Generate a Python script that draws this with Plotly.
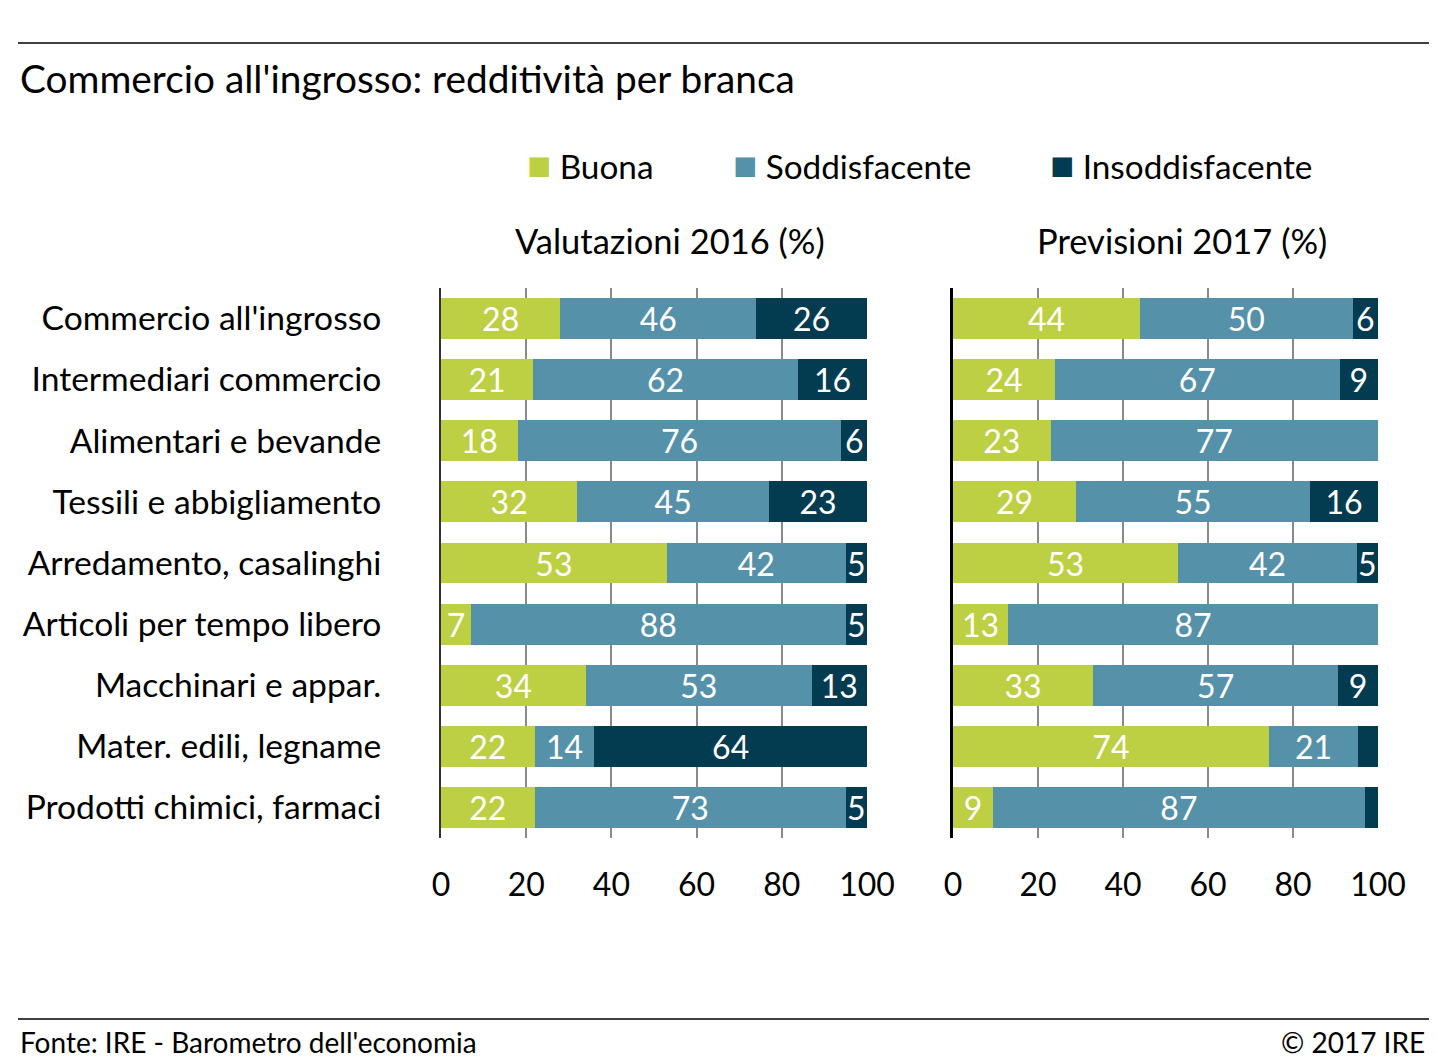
import plotly.graph_objects as go

# categories, top to bottom
branche = ["Commercio all'ingrosso", "Intermediari commercio", "Alimentari e bevande",
           "Tessili e abbigliamento", "Arredamento, casalinghi", "Articoli per tempo libero",
           "Macchinari e appar.", "Mater. edili, legname", "Prodotti chimici, farmaci"]

# Valutazioni 2016 (%)
buona_2016 = [28, 21.6, 18, 32, 53, 7, 34, 22, 22]
sodd_2016 = [46, 62.2, 76, 45, 42, 88, 53, 14, 73]
insodd_2016 = [26, 16.2, 6, 23, 5, 5, 13, 64, 5]
lab_buona_2016 = ["28", "21", "18", "32", "53", "7", "34", "22", "22"]
lab_sodd_2016 = ["46", "62", "76", "45", "42", "88", "53", "14", "73"]
lab_insodd_2016 = ["26", "16", "6", "23", "5", "5", "13", "64", "5"]

# Previsioni 2017 (%)
buona_2017 = [44, 24, 23, 29, 53, 13, 33, 74.3, 9.4]
sodd_2017 = [50, 67, 77, 55, 42, 87, 57.6, 21.1, 87.5]
insodd_2017 = [6, 9, 0, 16, 5, 0, 9.4, 4.6, 3.1]
lab_buona_2017 = ["44", "24", "23", "29", "53", "13", "33", "74", "9"]
lab_sodd_2017 = ["50", "67", "77", "55", "42", "87", "57", "21", "87"]
lab_insodd_2017 = ["6", "9", "", "16", "5", "", "9", "", ""]

serie = ["Buona", "Soddisfacente", "Insoddisfacente"]
colori = ["#bdd043", "#5592aa", "#033b50"]
tick_x = [0, 20, 40, 60, 80, 100]

FONT = "Lato, Noto Sans, sans-serif"
W, H = 1437, 1063
OFF = 8  # page body margin


def px_x(p):
    return (p - OFF) / W


def px_y(p):
    return 1 - (p - OFF) / H


fig = go.Figure()

panels = [
    ("x", "y", [buona_2016, sodd_2016, insodd_2016], [lab_buona_2016, lab_sodd_2016, lab_insodd_2016]),
    ("x2", "y2", [buona_2017, sodd_2017, insodd_2017], [lab_buona_2017, lab_sodd_2017, lab_insodd_2017]),
]
for xa, ya, vals, labs in panels:
    for nome, col, v, t in zip(serie, colori, vals, labs):
        fig.add_trace(go.Bar(
            y=branche, x=v, name=nome, orientation="h",
            marker=dict(color=col, line=dict(width=0)),
            text=t, textposition="inside", insidetextanchor="middle", textangle=0,
            textfont=dict(color="white", size=32, family=FONT),
            constraintext="none", showlegend=False,
            xaxis=xa, yaxis=ya,
        ))

fig.update_layout(
    width=W, height=H, autosize=False,
    barmode="stack", bargap=0.33,
    plot_bgcolor="white", paper_bgcolor="white",
    margin=dict(l=0, r=0, t=0, b=0, pad=0, autoexpand=False),
    font=dict(family=FONT, color="black", size=32),
)

ax_common = dict(range=[0, 100], tickvals=tick_x, showgrid=True, gridcolor="#8a8a8a",
                 gridwidth=2, zeroline=False, ticks="", tickfont=dict(size=32),
                 ticklabelstandoff=25, fixedrange=True, automargin=False)
y_dom = [px_y(838), px_y(288)]
fig.update_layout(
    xaxis=dict(domain=[px_x(441), px_x(867)], anchor="y", **ax_common),
    xaxis2=dict(domain=[px_x(953), px_x(1378)], anchor="y2", **ax_common),
    yaxis=dict(domain=y_dom, anchor="x", autorange="reversed",
               showline=True, linecolor="#333333", linewidth=2, ticks="",
               ticklabelstandoff=51, tickfont=dict(size=33.6), showgrid=False, automargin=False),
    yaxis2=dict(domain=y_dom, anchor="x2", autorange="reversed",
                showline=True, linecolor="black", linewidth=3, ticks="",
                showticklabels=False, showgrid=False, automargin=False),
)

# title, panel titles, legend, footer
ann = [
    dict(text="Commercio all'ingrosso: redditività per branca", x=px_x(18), y=px_y(78),
         xanchor="left", yanchor="middle", font=dict(size=38.8)),
    dict(text="Valutazioni 2016 (%)", x=px_x(670), y=px_y(241), xanchor="center", yanchor="middle",
         font=dict(size=34.5)),
    dict(text="Previsioni 2017 (%)", x=px_x(1182), y=px_y(241), xanchor="center", yanchor="middle",
         font=dict(size=34.5)),
    dict(text="Fonte: IRE - Barometro dell'economia", x=px_x(18), y=px_y(1042),
         xanchor="left", yanchor="middle", font=dict(size=28)),
    dict(text="© 2017 IRE", x=px_x(1427), y=px_y(1042), xanchor="right", yanchor="middle",
         font=dict(size=28)),
]
leg_x = [525, 731, 1048]
for nome, col, lx in zip(serie, colori, leg_x):
    ann.append(dict(text=f"<span style='color:{col};font-size:40px'>■</span> {nome}", x=px_x(lx),
                    y=px_y(164), xanchor="left", yanchor="middle", font=dict(size=33.3)))
for a in ann:
    a.update(xref="paper", yref="paper", showarrow=False)
fig.update_layout(annotations=ann)

fig.update_layout(shapes=[
    dict(type="line", xref="paper", yref="paper", x0=px_x(18), x1=px_x(1437), y0=px_y(43), y1=px_y(43),
         line=dict(color="black", width=1.5)),
    dict(type="line", xref="paper", yref="paper", x0=px_x(18), x1=px_x(1437), y0=px_y(1019),
         y1=px_y(1019), line=dict(color="black", width=1.5)),
])

fig.write_html("out.html")
